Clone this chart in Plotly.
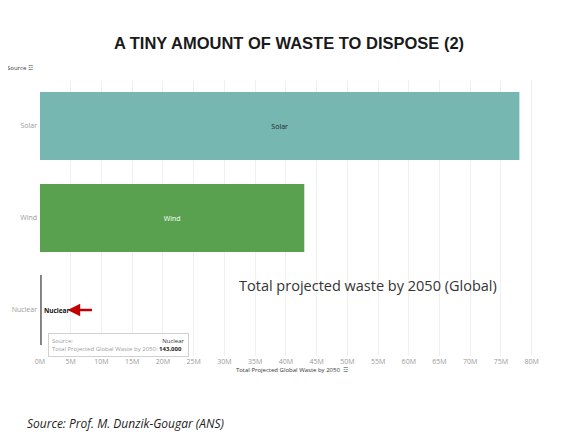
import plotly.graph_objects as go

# Data ------------------------------------------------------------------
sources = ["Solar", "Wind", "Nuclear"]
waste_2050 = [78000000, 43000000, 143000]
bar_colors = ["#76b7b2", "#59a14f", "#7f7f7f"]
label_colors = ["#222222", "#ffffff", "#111111"]
tick_vals = [i * 5000000 for i in range(17)]
tick_text = [f"{i * 5}M" for i in range(17)]

fig = go.Figure()

fig.add_trace(go.Bar(
    y=sources,
    x=waste_2050,
    orientation="h",
    marker=dict(color=bar_colors, line=dict(color=bar_colors, width=[0, 0, 2])),
    text=["Solar", "Wind", "<b>Nuclear</b>"],
    textposition=["inside", "inside", "outside"],
    insidetextanchor="middle",
    textfont=dict(family="Open Sans", size=[7, 7, 6.5], color=label_colors),
    cliponaxis=False,
    width=0.74,
    hoverinfo="skip",
))

# page has an 8px body margin, so the margins are shifted by 8px
fig.update_layout(
    width=562, height=437,
    margin=dict(l=32, r=26, t=72, b=89),
    paper_bgcolor="white",
    plot_bgcolor="white",
    showlegend=False,
    font=dict(family="Open Sans", size=7, color="#8a8a8a"),
    title=dict(
        text="<b>A TINY AMOUNT OF WASTE TO DISPOSE (2)</b>",
        x=0.5, xanchor="center", y=0.92, yanchor="middle",
        font=dict(family="Liberation Sans", size=16.5, color="#1a1a1a"),
    ),
    xaxis=dict(
        range=[0, 82000000], automargin=False,
        tickvals=tick_vals, ticktext=tick_text,
        showgrid=True, gridcolor="#f0f0f0", gridwidth=1,
        zeroline=False, showline=False,
        tickfont=dict(size=7, color="#9a9a9a"),
        title=dict(text="Total Projected Global Waste by 2050  \u2632",
                   font=dict(size=6, color="#333333"), standoff=2),
        fixedrange=True,
    ),
    yaxis=dict(
        categoryorder="array", categoryarray=sources[::-1], automargin=False,
        showgrid=False, zeroline=False, showline=False,
        tickfont=dict(size=7, color="#9a9a9a"),
        ticks="", ticklabelstandoff=2,
        fixedrange=True,
    ),
)

# "Source" header above the y labels
fig.add_annotation(text="Source \u2632", xref="paper", yref="paper",
                   x=-0.07, y=1.02, xanchor="left", yanchor="bottom",
                   showarrow=False, font=dict(size=6, color="#333333"))

# big caption
fig.add_annotation(text="Total projected waste by 2050 (Global)",
                   xref="paper", yref="paper", x=0.39, y=0.254,
                   xanchor="left", yanchor="middle", showarrow=False,
                   font=dict(family="Open Sans", size=14.5, color="#333333"))

# red arrow pointing at nuclear
fig.add_annotation(x=4500000, y="Nuclear", ax=8700000, ay="Nuclear",
                   xref="x", yref="y", axref="x", ayref="y",
                   text="", showarrow=True, arrowhead=2, arrowsize=1,
                   arrowwidth=2.5, arrowcolor="#c00000")

# tooltip box
fig.add_annotation(
    text=("Source:<span style='color:white'>" + "_" * 34 + "</span>"
          "<span style='color:#333'>Nuclear</span><br>"
          "Total Projected Global Waste by 2050: <b style='color:#222'>143,000</b>"),
    xref="paper", yref="paper", x=0.016, y=0.04,
    xanchor="left", yanchor="middle", align="left", showarrow=False,
    font=dict(size=6, color="#a0a0a0"),
    bgcolor="white", bordercolor="#d0d0d0", borderwidth=1, borderpad=3,
)

# source footer
fig.add_annotation(text="<i>Source: Prof. M. Dunzik-Gougar (ANS)</i>",
                   xref="paper", yref="paper", x=-0.03, y=-0.246,
                   xanchor="left", yanchor="middle", showarrow=False,
                   font=dict(family="Open Sans", size=12, color="#222222"))

fig.write_html("out.html")
